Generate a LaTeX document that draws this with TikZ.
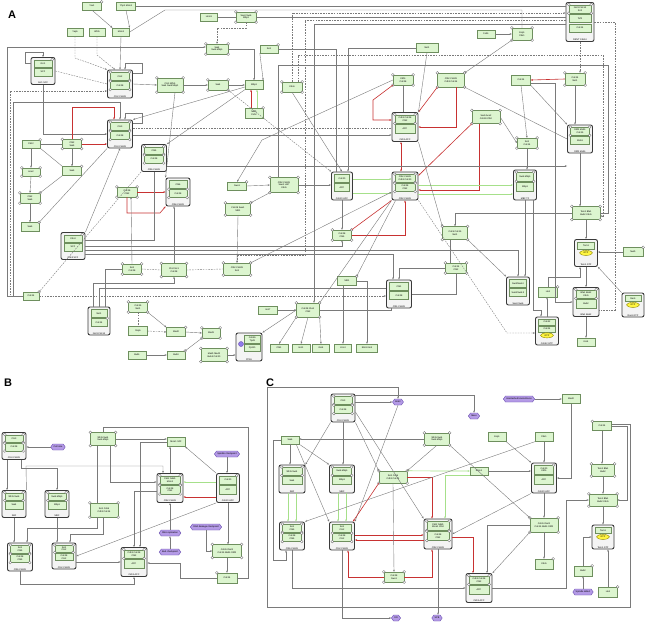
\documentclass[tikz,border=0pt]{standalone}
\usepackage{fontspec}
\setmainfont{Liberation Sans}
\usetikzlibrary{arrows.meta,shapes.geometric,shapes.symbols}
\definecolor{boxf}{HTML}{DCF5CF}
\definecolor{boxb}{HTML}{6E8F5E}
\definecolor{frmf}{HTML}{F4F4F4}
\definecolor{frm}{HTML}{3A3A3A}
\definecolor{lnc}{HTML}{7A7A7A}
\definecolor{redc}{HTML}{C83232}
\definecolor{grnc}{HTML}{A6E08A}
\definecolor{hexf}{HTML}{B49AE6}
\definecolor{hexb}{HTML}{6A4FB0}
\tikzset{
 tf/.style={font=\fontsize{2.3}{2.6}\selectfont},
 pb/.style={tf,draw=boxb,fill=boxf,rectangle,inner sep=0.3pt,align=center,line width=0.35pt},
 cf/.style={draw=frm,fill=frmf,rounded corners=2pt,line width=0.9pt,inner sep=0pt},
 lbl/.style={tf,inner sep=0.3pt},
 hx/.style={tf,signal,signal to=east and west,signal pointer angle=110,draw=hexb,fill=hexf,minimum height=6pt,inner sep=0.8pt},
 gtp/.style={tf,ellipse,draw=olive,fill=yellow!75,minimum width=13pt,minimum height=5pt,inner sep=0pt},
 ln/.style={draw=lnc,line width=0.4pt},
 dl/.style={draw=lnc,line width=0.4pt,dash pattern=on 1.6pt off 1.1pt},
 rl/.style={draw=redc,line width=0.6pt},
 gl/.style={draw=grnc,line width=0.7pt},
 ar/.style={-{Stealth[length=2.2pt,width=1.8pt]}},
 dar/.style={{Stealth[length=2.2pt,width=1.8pt]}-{Stealth[length=2.2pt,width=1.8pt]}},
 ptc/.style={circle,draw=black!60,fill=white,inner sep=0pt,minimum size=2.8pt,line width=0.3pt},
 panel/.style={font=\fontsize{11}{11}\selectfont\bfseries}
}
\newcommand\mybox[6]{\node[pb,minimum width=#4pt,minimum height=#5pt] (#1) at (#2,#3) {#6};}
\newcommand\pall[1]{\foreach \q in {north west,north east,south west,south east}{\node[ptc] at (#1.\q) {};}}
\newcommand\pone[1]{\node[ptc] at (#1.north east) {};}
\newcommand\cpx[8]{%
 \node[cf,minimum width=#4pt,minimum height=#5pt] (#1) at (#2,#3) {};
 \node[pb,anchor=north,minimum width=#4pt-6pt,minimum height=(#5pt-12pt)/2] (#1t) at ([yshift=-2.5pt]#1.north) {#6};
 \node[pb,anchor=north,minimum width=#4pt-6pt,minimum height=(#5pt-12pt)/2] (#1b) at ([yshift=-0.8pt]#1t.south) {#7};
 \node[lbl,anchor=south] at ([yshift=0.6pt]#1.south) {#8};}
\newcommand\cpxg[7]{%
 \node[cf,minimum width=#4pt,minimum height=#5pt] (#1) at (#2,#3) {};
 \node[pb,anchor=north,minimum width=#4pt-6pt,minimum height=(#5pt-12pt)/2] (#1t) at ([yshift=-2.5pt]#1.north) {#6};
 \node[gtp,anchor=north] (#1b) at ([yshift=-0.8pt]#1t.south) {GTP};
 \node[lbl,anchor=south] at ([yshift=0.6pt]#1.south) {#7};}
\newcommand\cpxt[9]{%
 \node[cf,minimum width=#4pt,minimum height=#5pt] (#1) at (#2,#3) {};
 \node[pb,anchor=north,minimum width=#4pt-6pt,minimum height=(#5pt-14pt)/3] (#1t) at ([yshift=-2.5pt]#1.north) {#6};
 \node[pb,anchor=north,minimum width=#4pt-6pt,minimum height=(#5pt-14pt)/3] (#1m) at ([yshift=-0.8pt]#1t.south) {#7};
 \node[pb,anchor=north,minimum width=#4pt-6pt,minimum height=(#5pt-14pt)/3] (#1b) at ([yshift=-0.8pt]#1m.south) {#8};
 \node[lbl,anchor=south] at ([yshift=0.6pt]#1.south) {#9};}
\begin{document}
\begin{tikzpicture}[x=1pt,y=-1pt]
\useasboundingbox[fill=white] (0,0) rectangle (645,622);
\node[panel] at (12,15) {A};
\node[panel] at (8,383) {B};
\node[panel] at (270,383) {C};
% ================= PANEL A nodes
\mybox{a1}{92}{6}{19}{8}{Yox1}\pone{a1}
\mybox{a2}{126}{6}{19}{8}{Yhp1 Mcm1}
\mybox{a3}{75}{32}{16}{8}{Yap5}
\mybox{a4}{97}{32}{16}{8}{Whi5}
\mybox{a5}{121}{32}{17}{8}{Mcm1}
\mybox{a6}{209}{17}{17}{8}{Hcm1}
\mybox{a7}{246}{17}{20}{10}{Swi4 Swi6\\Mbp1}\pall{a7}
\mybox{a8}{217}{49}{22}{10}{Swi4\\Swi6 Mbp1}\pall{a8}
\mybox{a9}{269}{49}{18}{8}{Sic1}\pone{a9}
\mybox{a10}{254}{85}{18}{9}{Mbp1}
\mybox{a11}{218}{85}{20}{10}{Swi4}\pall{a11}
\mybox{a12}{292}{87}{20}{10}{Cdc6}\pall{a12}
\mybox{a13}{254}{113}{18}{10}{Ndd1\\Fkh2}\pone{a13}
\mybox{a14}{170}{85}{26}{14}{Cln3 Whi5\\Swi4 Swi6 Mbp1}\pall{a14}
\mybox{a15}{427}{48}{22}{9}{Net1}
\mybox{a16}{486}{34}{18}{8}{Fob1}
\mybox{a17}{522}{34}{20}{12}{Esp1\\Pds1}\pall{a17}
\mybox{a18}{403}{80}{20}{10}{Cdh1\\Cdc28}\pall{a18}
\mybox{a19}{451}{80}{27}{14}{Clb2 Cdc28\\Cdh1 Cdc14}\pall{a19}
\mybox{a20}{521}{80}{19}{10}{Cdc14}
\mybox{a21}{575}{79}{20}{12}{Cdc14\\Net1}\pall{a21}
\mybox{a22}{486}{117}{28}{13}{Swi5 Ace2\\Cdc28 Clb2}\pall{a22}
\mybox{a23}{527}{143}{20}{10}{Sic1\\Cdc14}\pall{a23}
\mybox{a24}{31}{144}{18}{8}{Fkh2}\pone{a24}
\mybox{a25}{72}{144}{19}{9}{Clb2\\Swi5}\pall{a25}
\mybox{a26}{31}{172}{18}{8}{Ace2}\pall{a26}
\mybox{a27}{72}{171}{19}{9}{Swi5}\pone{a27}
\mybox{a28}{30}{198}{20}{10}{Clb2\\Swi5}\pall{a28}
\mybox{a29}{30}{227}{18}{9}{Swi5}\pone{a29}
\mybox{a30}{127}{192}{20}{10}{Cdc28\\Clb2}\pall{a30}
\mybox{a31}{132}{269}{19}{10}{Sic1\\Cdc28}\pall{a31}
\mybox{a32}{174}{270}{25}{13}{Cln2 Sic1\\Cdc28}\pall{a32}
\mybox{a33}{31}{296}{16}{8}{Cdc14}\pone{a33}
\mybox{a34}{138}{307}{19}{10}{Cdc15\\Net1}\pall{a34}
\mybox{a35}{138}{331}{19}{9}{Rsp5}
\mybox{a36}{176}{332}{19}{9}{Mad2}\pone{a36}
\mybox{a37}{211}{333}{18}{10}{Mad3}\pall{a37}
\mybox{a38}{237}{186}{19}{8}{Swe1}\pone{a38}
\mybox{a39}{284}{185}{28}{15}{Clb2 Cdc28\\Swe1 Hsl7\\Cdc5}\pall{a39}
\mybox{a40}{238}{209}{25}{12}{Cdc28 Swe1\\Mih1}\pall{a40}
\mybox{a41}{342}{235}{19}{10}{Cdc28\\Clb5}\pall{a41}
\mybox{a42}{237}{269}{27}{12}{Clb2 Cdc28\\Sic1}\pall{a42}
\mybox{a43}{347}{281}{19}{9}{Mih1}\pone{a43}
\mybox{a44}{268}{310}{19}{8}{Hsl7}
\mybox{a45}{308}{310}{23}{14}{Cdc28 Cks1\\Clb2}\pall{a45}
\mybox{a46}{279}{348}{18}{8}{Clb1}
\mybox{a47}{301}{348}{18}{8}{Hsl1}
\mybox{a48}{321}{348}{17}{8}{Gin4}
\mybox{a49}{343}{348}{17}{8}{Kcc4}
\mybox{a50}{367}{348}{21}{8}{Elm1 Kin4}
\mybox{a51}{137}{355}{18}{8}{Bub1}
\mybox{a52}{176}{355}{18}{8}{Bub3}\pone{a52}
\mybox{a53}{214}{355}{26}{13}{Mad1 Mad2\\Bub3 Cdc20}\pall{a53}
\mybox{a54}{633}{252}{20}{9}{Nud1}\pone{a54}
\mybox{a55}{548}{292}{19}{10}{Lte1}\pone{a55}
\mybox{a56}{586}{213}{28}{13}{Tem1 Bfa1\\Bub2 Cdc5}\pall{a56}
\mybox{a57}{455}{233}{25}{13}{Cdc5 Cdc15\\Net1}\pall{a57}
\mybox{a58}{456}{268}{21}{10}{Cdc14\\Clb2}\pall{a58}
\mybox{a59}{586}{342}{18}{8}{Kin4}
\cpx{A1}{43}{71}{24}{27}{Grr1}{SCF}{Grr1 SCF}\pone{A1t}
\cpx{A2}{120}{84}{25}{28}{Cln2}{Cdc28}{Cln2 Cdc28}\pall{A2t}\pall{A2b}
\cpx{A3}{120}{134}{25}{28}{Cln3}{Cdc28}{Cln3 Cdc28}\pall{A3t}\pall{A3b}
\cpx{A4}{154}{158}{25}{27}{Clb5}{Cdc28}{Clb5 Cdc28}\pall{A4t}\pall{A4b}
\cpx{A5}{178}{192}{24}{28}{Clb6}{Cdc28}{Clb6 Cdc28}\pall{A5b}
\cpx{A6}{73}{246}{24}{27}{Cdc4}{SCF}{Cdc4 SCF}\pone{A6t}
\cpx{A7}{99}{321}{22}{28}{Net1}{Cdc14}{Net1 Cdc14}\pone{A7b}
\cpx{A8}{405}{127}{26}{29}{Cdh1 Cdc28\\Clb2}{APC}{Cdh1 APC}\pall{A8t}
\cpx{A9}{342}{186}{21}{28}{Cdc20}{APC}{Cdc20 APC}
\cpx{A10}{405}{186}{26}{28}{Clb2 Cdc28\\Cdh1 Cdc20}{Cdc28\\Clb2}{Clb2 Cdc28}\pall{A10t}\pall{A10b}
\cpx{A11}{399}{294}{25}{28}{Clb1}{Cdc28}{Clb1 Cdc28}
\cpxt{A12}{580}{22}{28}{39}{Net1 Cdc14\\Sir2}{Tof2}{Cdc14}{RENT Cdc14}\pall{A12t}
\cpx{A13}{580}{139}{25}{28}{Dbf2 Mob1\\Cdc15}{Mob1}{Dbf2 Mob1}\pall{A13t}
\cpx{A14}{525}{185}{23}{30}{Swi6 Mbp1}{Mbp1}{MBF TF}\pall{A14t}
\cpxg{A15}{586}{253}{23}{27}{Tem1}{Tem1 GTP}
\cpx{A16}{518}{291}{23}{28}{Swi4/Swi6 I}{Swi4/Swi6 II}{Swi4 Swi6}
\cpx{A17}{586}{302}{26}{29}{Bfa1 Bub2\\Cdc5}{Bub2}{Bfa1 Bub2}\pall{A17t}
\cpxg{A18}{633}{305}{22}{24}{Ras1}{Ras1 GTP}
\node[cf,minimum width=23pt,minimum height=28pt] (A19) at (547,331) {};
\node[pb,anchor=north,minimum width=17pt,minimum height=6pt] (A19t) at ([yshift=-2pt]A19.north) {Cdc42};
\node[pb,anchor=north,minimum width=17pt,minimum height=6pt] (A19m) at ([yshift=-0.7pt]A19t.south) {Cdc24};
\node[gtp,anchor=north] (A19g) at ([yshift=-0.7pt]A19m.south) {GTP};
\node[lbl,anchor=south] at ([yshift=0.5pt]A19.south) {Cdc42 GTP};
\node[cf,minimum width=26pt,minimum height=28pt] (A20) at (249,347) {};
\node[pb,anchor=north east,minimum width=16pt,minimum height=8pt] (A20t) at ([xshift=-2pt,yshift=-2.5pt]A20.north east) {Cdc55\\Tpd3};
\node[pb,anchor=north,minimum width=16pt,minimum height=7pt] (A20b) at ([yshift=-0.8pt]A20t.south) {Pph21};
\node[circle,fill=hexf!80!blue,draw=hexb,minimum size=5pt,inner sep=0pt] (A20c) at (241,344) {};
\node[lbl,anchor=south] at ([yshift=0.6pt]A20.south) {PP2A};
% ================= PANEL A connectors
\draw[ln,ar] (a1.south) -- (a5.north west);
\draw[ln,ar] (a2.south) -- (a5.north east);
\draw[ln] (a2.east) -- (a2.east -| A12.west);
\draw[ln] (a5.east) -- (165,10) -| (a17.north);
\draw[dl,ar] (a3.south) -- (75,58) -- (A2.north west);
\draw[dl,ar] (a4.south) -- (97,55) -- ([xshift=-5pt]A2.north);
\draw[ln,ar] (a5.south) -- (A2.north);
\draw[dl] (A1.east) -- (A2.west);
\draw[ln,ar] ([yshift=-6pt]A1.north west) -| (25,52) -| (A1.north);
\draw[ln,ar] ([yshift=-4pt]A2.north east) -| (142,63) -| ([xshift=5pt]A2.north);
\draw[ln,ar] ([yshift=-4pt]A3.north east) -| (142,113) -| ([xshift=5pt]A3.north);
\draw[ln,ar] (A2.east) -- (a14.west);
\draw[ln,ar] (A1.south) |- (A3.west);
\draw[ln,ar] (a14.east) -- (a11.west);
\draw[ln,ar] (a11.east) -- (a10.west);
\draw[ln,ar] (a9.south west) -- (a10.north east);
\draw[ln,ar] (a8.east) -| (a10.north);
\draw[dl,ar] (a7.south) -- (246,28) -| (a8.north);
\draw[ln] (a6.east) -- (a7.west);
\draw[ln] (a7.east) -- (a7.east -| A12.west);
\draw[rl,ar] ([xshift=-3pt]a13.north) -- ([xshift=-3pt]a10.south);
\draw[gl,ar] ([xshift=3pt]a13.north) -- ([xshift=3pt]a10.south);
\draw[ln,ar] (a10.south west) -- (A4.north east);
\draw[ln,ar] ([yshift=-2pt]a10.west) -- (A3.north east);
\draw[ln,ar] (a12.south) -- (A9.north);
\draw[dl,ar] (a12.north) |- ([yshift=9pt]A12.west);
\draw[ln,ar] (a18.west) -- (262,140) -- (a38.north);
\draw[rl,ar] (a30.east) -- (a30.east -| A5.west);
\draw[rl,ar] (a30.south) |- (160,213) -- (A5.south west);
\draw[rl,ar] (a25.north) |- (114,107) -- (114,107 |- A3.north);
\draw[rl,ar] (a25.east) -- (a25.east -| A3.west);
\draw[ln] (a24.east) -- (a25.west);
\draw[ln,ar] (a24.south) -- (a26.north);
\draw[ln,ar] (a26.south) -- (a28.north);
\draw[ln,ar] (a28.south) -- (a29.north);
\draw[ln] (a24.south east) -- (a27.north west);
\draw[ln,ar] (a25.south) -- (a27.north);
\draw[ln] (a28.north east) -- (a27.south west);
\draw[ln,ar] (A6.east) -| (a41.south);
\draw[ln,ar] (A6.north east) -- (A3.south);
\draw[ln] (A4.south) |- ([yshift=6pt]A6.east);
\draw[dl] (A4.south west) -- (a33.north east);
\draw[ln] (A3.south west) -- (a29.north east);
\draw[ln,ar] (a33.west) -| (7,47) -- (a8.west |- 7,47);
\draw[dl,ar] (a33.west) -| (10,91) -- (10,91 -| A2.west);
\draw[ln,ar] (a33.west) -| (13,102) -| (A3.north);
\draw[dl,ar] (a33.east) -- (a33.east -| A11.west);
\draw[dl] (a31.east) -- (a32.west);
\draw[ln,ar] (a31.north) -- ([xshift=4pt]a30.south);
\draw[ln,ar] (a32.north) -- (a32.north |- A5.south);
\draw[ln,ar] ([xshift=-6pt]A7.north) -- (93,283) -| (a32.south);
\draw[ln] (A7.north) -- (99,288) -- (99,288 -| A11.west);
\draw[ln] ([xshift=6pt]A7.north) |- (a31.west);
\draw[ln,ar] (a34.south east) -- (a36.north west);
\draw[dl] (a34.south) -- (a35.north);
\draw[dl,ar] (a35.east) -- (a36.west);
\draw[ln,ar] (a36.east) -- (a37.west);
\draw[ln,ar] (a51.east) -- (a52.west);
\draw[ln] (a52.north east) -- (a37.south west);
\draw[ln,ar] (a53.east) -- (a53.east -| A20.west);
\draw[ln,ar] (a38.east) -- (a39.west);
\draw[ln,ar] (a39.south west) -- (a40.north east);
\draw[ln,ar] (a39.east) -- (a39.east -| A9.west);
\draw[ln] (a40.south) -- (a42.north);
\draw[ln,ar] (A9.south) -- (a41.north);
\draw[rl,ar] (a41.north east) -- (A10.south west);
\draw[rl,ar] (a41.east) -| (A10.south);
\draw[ln,ar] ([xshift=4pt]A10.south west) -- (a43.north east);
\draw[ln,ar] ([xshift=-4pt]a43.south) -- ([xshift=-4pt]a43.south |- a49.north);
\draw[ln,ar] (a43.east) -| (a50.north);
\draw[ln,ar] (a44.east) -- (a45.west);
\draw[ln,ar] (a45.south west) -- (a46.north);
\draw[ln,ar] (a45.south) -- (a47.north);
\draw[ln,ar] (a45.south east) -- (a48.north);
\draw[ln] (a45.north east) -- (A10.south west);
\draw[ln,ar] (a45.west) -- (A20.north east);
\draw[dl] (a32.east) -- (a42.west);
\draw[gl,ar] ([yshift=7pt]A9.east) -- ([yshift=7pt]A9.east -| A10.west);
\draw[gl,ar] ([yshift=-7pt]A9.east) -- ([yshift=-7pt]A9.east -| A10.west);
\draw[rl,dar] ([xshift=-4pt]A8.south) -- ([xshift=-4pt]A10.north);
\draw[ln] (a18.south) -- (a18.south |- A8.north);
\draw[rl,ar] (a18.south west) -- (373,100) |- ([yshift=7pt]A8.west);
\draw[rl,ar] ([xshift=5pt]a19.south) |- (A8.east);
\draw[rl,ar] (a19.south west) -- (A8.north east);
\draw[rl,ar] (a22.south west) -- ([yshift=-4pt]A10.north east);
\draw[rl,ar] ([xshift=-7pt]a22.south) -- (479,190) -- ([yshift=-4pt]A10.east);
\draw[gl,ar] ([yshift=1pt]A10.east) -- ([yshift=1pt]A10.east -| A14.west);
\draw[gl,ar] ([yshift=-8pt]A10.east) -- ([yshift=-8pt]A10.east -| A14.west);
\draw[ln,ar] (a20.south) -- (a23.north);
\draw[ln,ar] (a23.south) -- (a23.south |- A14.north);
\draw[ln,ar] (a20.south east) -- (A13.north west);
\draw[ln,ar] (a21.south) -- (a21.south |- A13.north);
\draw[rl,ar] (a21.west) -- (a20.east);
\draw[ln,ar] (a16.east) -- (a17.west);
\draw[ln,ar] (a17.south west) -- (a19.north east);
\draw[dl,ar] (A12.south) -- (A12.south |- a21.north);
\draw[dl] (A12.east) -| (615,310) -- (615,310 -| A17.east);
\draw[ln,ar] (A13.south) -- (A13.south |- a56.north);
\draw[ln,ar] (a56.south) -- (A15.north);
\draw[ln,ar] (A15.south) -- (A17.north);
\draw[ln,ar] (A17.south) -- (a59.north);
\draw[ln,ar] (a54.west) -- (a54.west -| A15.east);
\draw[ln,ar] (A18.north west) -- (A15.south east);
\draw[ln,ar] (a55.north) -- (548,277) -| ([xshift=-6pt]A15.south);
\draw[ln,ar] (A19.north) -- (A19.north |- a55.south);
\draw[ln,ar] (a57.south east) -- (A16.north west);
\draw[ln] ([xshift=-5pt]a57.south) -- ([xshift=-5pt]a57.south |- a58.north);
\draw[dl,ar] (A10.south east) -- (507,333) -- (507,333 -| A19.west);
\draw[ln,ar] (A14.south) -- (A14.south |- A16.north);
\draw[ln,ar] ([yshift=-3pt]a20.east) -- (555,83) |- (A17.west);
\draw[ln] ([xshift=-6pt]a39.north) |- (608,65) |- (a56.east);
\draw[ln,ar] (a15.south) -- (A8.north east);
\draw[ln] (a19.south east) -- (A13.west);
\draw[ln,ar] (a22.east) -- (a23.west);
\draw[ln,ar] (A8.south east) -- (a57.north west);
\draw[ln,ar] (a58.west) -| (A11.north);
\draw[ln] (A11.east) -| (a58.south);
% extra long routes of panel A
\draw[ln,ar] ([yshift=-2pt]A12.west) -| ([xshift=6pt]a45.north);
\draw[dl,ar] ([yshift=2pt]A12.west) -| (305,255) -| (a42.north);
\draw[ln,ar] ([yshift=-1pt]A3.east) -- ([yshift=-1pt]A3.east -| A8.west);
\draw[dl] ([yshift=6pt]A3.east) -- ([yshift=6pt]A3.east -| A8.west);
\draw[ln,ar] ([yshift=-8pt]A4.east) -- ([yshift=-8pt]A4.east -| A13.west);
\draw[ln,ar] ([yshift=-4pt]A6.east) -| (A16.north);
\draw[ln,ar] ([yshift=-8pt]A6.east) -| ([xshift=-6pt]A11.north);
\draw[ln,ar] ([xshift=8pt]A14.south) -- (533,310) -| ([xshift=-6pt]A19.north);
\draw[ln,ar] (a56.west) -| (a57.north);
\draw[ln,ar] (a15.west) -| ([xshift=6pt]A9.north);
\draw[ln] ([xshift=-6pt]A9.north) |- (a9.east);
\draw[dl,ar] ([xshift=6pt]a12.north) |- (603,55) |- ([yshift=-3pt]a56.east);
\draw[ln,ar] (a42.north east) -- ([yshift=-6pt]A10.west);
\draw[dl,ar] (a11.south east) -- (A9.north west);
\draw[ln] ([xshift=-8pt]A11.south) |- (a45.east);
\draw[ln,ar] ([xshift=5pt]a14.south) -- (A5.north west);
% ================= PANEL B
\cpx{bB1}{14}{446}{24}{27}{Cln3}{Cdc28}{Cln3 Cdc28}\pall{bB1t}\pall{bB1b}
\node[hx] (bH1) at (58,447) {Cell size};
\mybox{b1}{103}{439}{25}{13}{Whi5 Swi4\\Swi6 Mbp1}\pall{b1}
\mybox{b2}{176}{442}{18}{9}{Mcm1 SFF}
\node[hx] (bH2) at (227,454) {Spindle checkpoint};
\cpx{bB2}{14}{504}{24}{27}{Whi5 Swi6}{Swi4}{SBF}\pall{bB2t}
\cpx{bB3}{57}{504}{24}{27}{Swi6 Mbp1}{Mbp1}{MBF}\pall{bB3t}
\mybox{b3}{104}{510}{28}{14}{Sic1 Cdc6\\Cdh1 Cdc14}\pall{b3}
\cpx{bB4}{170}{488}{26}{29}{Fkh2 Ndd1\\Mcm1}{Cdc28\\Clb2}{Clb2 Cdc28}\pall{bB4t}\pall{bB4b}
\cpx{bB5}{228}{488}{23}{29}{Cdc20}{APC}{Cdc20 APC}\pone{bB5t}
\node[hx] (bH3) at (170,533) {DNA replication};
\node[hx] (bH4) at (206,527) {DNA damage checkpoint};
\node[hx] (bH5) at (170,552) {Bud checkpoint};
\cpx{bB6}{20}{557}{25}{28}{Sic1\\Clb5}{Cdc28\\Clb5}{Clb5 Cdc28}\pall{bB6t}\pall{bB6b}
\cpx{bB7}{64}{556}{24}{26}{Sic1\\Cln2}{Cdc28\\Cln2}{Cln2 Cdc28}\pall{bB7t}
\cpx{bB8}{134}{562}{26}{29}{Cdh1 Cdc28\\Clb2}{APC}{Cdh1 APC}\pall{bB8t}
\mybox{b4}{227}{551}{29}{13}{Cdc14 Net1\\Cdc15 Mob1 Dbf2}\pall{b4}
\mybox{b5}{227}{578}{20}{10}{Cdc14}\node[ptc] at (b5.north west) {};
\draw[ln,ar] (bH1.west) -- (bH1.west -| bB1.east);
\draw[ln,ar] ([xshift=-7pt]bB1.south) -- ([xshift=-7pt]bB1.south |- bB2.north);
\draw[ln,ar] ([xshift=7pt]bB1.south) -- (21,468) -| (bB3.north);
\draw[ln,ar] (bB2.north east) -- (26,466) -| ([xshift=-7pt]bB4.north);
\draw[ln,ar] (b1.east) -- (b1.east -| b2.west);
\draw[ln,ar] (bB4.north) -- (bB4.north |- b2.south);
\draw[ln,ar] (bB5.north west) -- (b2.south east);
\draw[ln,ar] (bH2.south) -- (bH2.south |- bB5.north);
\draw[gl,ar] ([yshift=6pt]bB5.west) -- ([yshift=6pt]bB5.west -| bB4.east);
\draw[rl,ar] ([yshift=-9pt]bB5.west) -- ([yshift=-9pt]bB5.west -| bB4.east);
\draw[ln,ar] ([xshift=7pt]b1.south) |- ([yshift=6pt]bB4.west);
\draw[ln] ([xshift=-6pt]b1.south) -- ([xshift=-7pt]b3.north);
\draw[ln,ar] ([xshift=-7pt]b3.south) -- (97,528) -| ([xshift=7pt]bB6.north);
\draw[ln,ar] ([xshift=-1pt]b3.south) -- (103,534) -| ([xshift=6pt]bB7.north);
\draw[ln,ar] (bB5.south west) -- (bB7.east);
\draw[ln,ar] (bB6.south) -- (20,584) -| (bB8.south);
\draw[ln,ar] (bH3.north) -- (bB4.south);
\draw[ln,ar] (bH5.north) -- (bH3.south);
\draw[ln,ar] ([yshift=-3pt]bB4.west) -| (bB8.north);
\draw[ln,ar] (b2.west) -| ([xshift=6pt]bB8.north);
\draw[ln,ar] ([yshift=-6pt]bB7.east) -- ([yshift=-6pt]bB7.east -| bB8.west);
\draw[ln,ar] (b5.west) -| (180,563) -- (180,563 -| bB8.east);
\draw[ln,ar] (bH4.south) |- (b4.west);
\draw[ln,ar] (b4.south) -- (b5.north);
\draw[ln,ar] (bB5.south) -- (bB5.south |- b4.north);
\draw[ln,ar] (bB2.south) -- (bB2.south |- bB6.north);
\draw[ln,ar] (bB3.south) -- (bB3.south |- bB7.north);
\draw[ln] (b1.north) |- (248,427) |- (b5.east);
% ================= PANEL C
\cpx{cB1}{343}{408}{24}{28}{Cln3}{Cdc28}{Cln3 Cdc28}\pall{cB1t}\pall{cB1b}
\node[hx] (cH1) at (398,402) {Bck2};
\mybox{c1}{290}{440}{18}{8}{Swi6}
\mybox{c2}{437}{439}{25}{12}{Whi5 Swi4\\Swi6 Mbp1}\pall{c2}
\cpx{cB2}{292}{479}{26}{28}{Whi5 Swi4}{Swi4}{SBF}\pall{cB2t}
\cpx{cB3}{342}{479}{25}{28}{Swi6 Mbp1}{Mbp1}{MBF}\pall{cB3t}
\mybox{c3}{393}{477}{28}{12}{Sic1 Cdc6\\Cdh1 Cdc14}\pall{c3}
\node[hx] (cH2) at (519,399) {Unattached kinetochores};
\mybox{c4}{571}{399}{18}{9}{Mad2}
\node[hx] (cH3) at (474,416) {Mass};
\mybox{c5}{602}{426}{19}{9}{Cdc14}\node[ptc] at (c5.north west) {};
\mybox{c6}{497}{437}{18}{9}{Esp1}
\mybox{c7}{544}{437}{18}{9}{Pds1}
\mybox{c8}{479}{471}{18}{8}{Mcm1}
\cpx{cB4}{544}{478}{25}{30}{Cdc20\\Cdh1}{APC}{Cdc20 APC}\pone{cB4t}
\mybox{c9}{603}{470}{23}{12}{Tem1 Bfa1\\Bub2}\pall{c9}
\cpx{cB5}{292}{536}{25}{28}{Sic1\\Clb5}{Cdc28\\Clb5}{Clb5 Cdc28}\pall{cB5t}\pall{cB5b}
\cpx{cB6}{342}{536}{25}{28}{Sic1\\Cln2}{Cdc28\\Cln2}{Cln2 Cdc28}\pall{cB6b}
\cpx{cB7}{438}{534}{28}{30}{Fkh2 Ndd1\\Mcm1 Clb2}{Cdc28\\Clb2}{Clb2 Cdc28}\pall{cB7t}\pall{cB7b}
\mybox{c10}{394}{577}{20}{10}{Cdc28\\Swe1}\pall{c10}
\node[hx] (cH4) at (396,618) {DR};
\node[hx] (cH5) at (437,618) {SPB};
\mybox{c11}{544}{525}{28}{14}{Cdc14 Net1\\Cdc15 Mob1 Dbf2}\pall{c11}
\mybox{c12}{544}{564}{18}{10}{Cdc5}\pone{c12}
\cpx{cB8}{479}{588}{26}{29}{Cdh1 Cdc28\\Clb2}{APC}{Cdh1 APC}\pall{cB8t}
\mybox{c13}{603}{500}{28}{12}{Tem1 Bfa1\\Bub2 Cdc5}\pall{c13}
\cpxg{cB9}{603}{537}{22}{24}{Tem1}{Tem1 GTP}
\mybox{c14}{583}{571}{18}{10}{Bub2}\pone{c14}
\node[hx] (cH6) at (583,592) {Spindle defect};
\mybox{c15}{608}{592}{19}{10}{Lte1}\pone{c15}
\draw[ln,ar] (cB1.east |- cH1.west) -- (cH1.west);
\draw[ln,ar] (cB1.south west) -- (cB2.north east);
\draw[ln,ar] (cB1.south) -- (cB1.south |- cB3.north);
\draw[ln,ar] (cB1.south east) -- (c3.north west);
\draw[ln,ar] ([yshift=-4pt]cB1.east) -- (cB7.north west);
\draw[ln,ar] (c1.south) -- (c1.south |- cB2.north);
\draw[ln,ar] (c1.south east) -- (cB3.north west);
\draw[ln,ar] ([xshift=-3pt]c1.south east) -- (cB6.north west);
\draw[ln,ar] (c2.west) -- (c2.west -| c1.east);
\draw[ln,ar] (cH1.south) -- (cB6.north east);
\draw[ln,ar] ([yshift=-2pt]cB1.north east) -| (cH3.north);
\draw[ln,ar] (cH2.east) -- (c4.west);
\draw[ln,ar] (c4.south) |- (cB4.east);
\draw[ln,ar] (c6.south east) -- (cB4.north west);
\draw[ln,ar] (c7.south) -- (c7.south |- cB4.north);
\draw[gl,ar] (c3.north east) -- (c8.west);
\draw[gl,ar] (c8.south west) -| ([xshift=7pt]cB7.north);
\draw[ln,ar] (c8.east) -- (c8.east -| cB4.west);
\draw[ln,ar] (cB4.south) -- (c11.north);
\draw[ln,ar] (c11.south) -- (c12.north);
\draw[ln,ar] (c11.west) -| ([xshift=8pt]cB8.north);
\draw[ln,ar] (c11.south west) -- (cB8.north east);
\draw[ln,ar] (cB8.east) -| (566,500) -- (566,500 -| c13.west);
\draw[ln,ar] (c5.south) -- (c5.south |- c9.north);
\draw[ln,ar] (c9.south) -- (c13.north);
\draw[ln,ar] (c13.south) -- (cB9.north);
\draw[ln,ar] (c14.north) |- (cB9.west);
\draw[ln,ar] (cH6.north) -- (c14.south);
\draw[ln,ar] (c15.north) -- (c15.north |- cB9.south);
\draw[ln,ar] (c5.east) -| (627,500) -- (c13.east);
\draw[ln,ar] ([yshift=2pt]c5.east) -| (630,607) -| (267,387) -| (cH1.north);
\draw[rl,ar] (c3.south west) -- ([xshift=-2pt]cB6.north east);
\draw[rl,ar] (c3.east) -| ([xshift=-6pt]cB7.north);
\draw[rl,ar] ([yshift=1pt]cB6.east) -- ([yshift=1pt]cB6.east -| cB7.west);
\draw[rl,ar] ([yshift=-6pt]cB7.west) -- ([yshift=-6pt]cB7.west -| cB6.east);
\draw[rl,ar] (c10.west) -| ([xshift=6pt]cB6.south);
\draw[rl,ar] (c10.east) -| ([xshift=-6pt]cB7.south);
\draw[rl,ar] ([yshift=-3pt]cB7.east) -| ([xshift=-6pt]cB8.north);
\draw[ln,ar] (cB6.south) |- (cH4.west);
\draw[ln,ar] (cB7.south) -- (cB7.south |- cH5.north);
\draw[ln,ar] (cB5.south) |- (cB8.west);
\draw[gl,ar] ([xshift=-4pt]cB2.south) -- ([xshift=-4pt]cB2.south |- cB5.north);
\draw[gl,ar] ([xshift=4pt]cB2.south) -- ([xshift=4pt]cB2.south |- cB5.north);
\draw[gl,ar] ([xshift=-4pt]cB3.south) -- ([xshift=-4pt]cB3.south |- cB6.north);
\draw[gl,ar] ([xshift=4pt]cB3.south) -- ([xshift=4pt]cB3.south |- cB6.north);
\draw[ln,ar] (c7.south west) -- (cB5.north east);
\draw[ln,ar] (cB4.south west) -- (cB7.east);
\draw[ln,ar] (c1.west) -| (273,560) -| ([xshift=-6pt]cB5.south);
\draw[ln,ar] (c2.south) -- (c3.north east);
\draw[ln,ar] (c2.south east) -- (c11.north west);
\draw[ln,ar] (c3.south) -- (c10.north);
\end{tikzpicture}
\end{document}
